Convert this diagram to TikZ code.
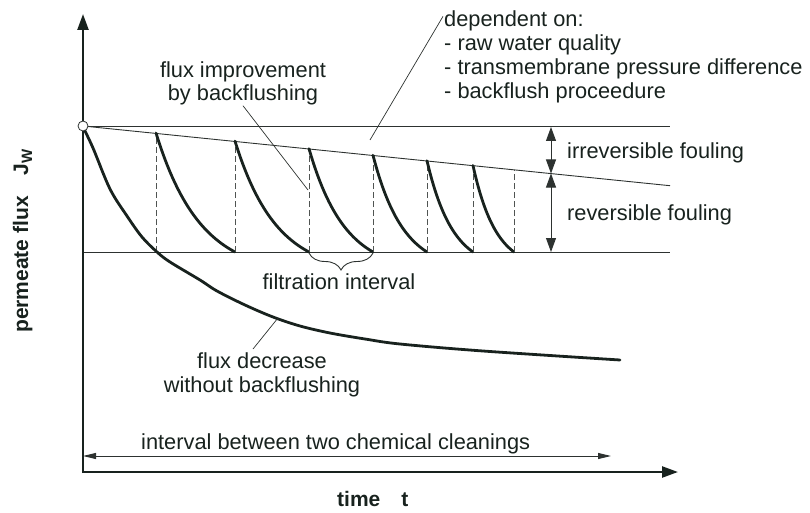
\documentclass[tikz,border=0pt]{standalone}
\usepackage{fontspec}
\setmainfont{Liberation Sans}
\usetikzlibrary{arrows.meta,decorations.pathreplacing}
\definecolor{ink}{RGB}{24,34,30}
\definecolor{thinink}{RGB}{45,50,48}
\definecolor{dashink}{RGB}{80,84,82}
\begin{document}
\begin{tikzpicture}[x=1pt,y=-1pt,
  axis/.style={line width=2.4pt, draw=ink, -{Triangle[length=16pt,width=11pt]}},
  curve/.style={line width=2.8pt, draw=ink, line cap=round, line join=round},
  thinline/.style={line width=0.9pt, draw=thinink},
  leader/.style={line width=0.7pt, draw=thinink},
  guide/.style={line width=0.9pt, draw=dashink, dash pattern=on 6pt off 3pt},
  dimarrow/.style={line width=0.9pt, draw=thinink, {Triangle[length=14pt,width=10pt]}-{Triangle[length=14pt,width=10pt]}},
  spanarrow/.style={line width=0.9pt, draw=thinink, {Triangle[length=13pt,width=6pt]}-{Triangle[length=13pt,width=6pt]}},
  lbl/.style={font=\fontsize{21.8}{24}\selectfont, inner sep=0pt, text=ink},
  axislbl/.style={font=\fontsize{21}{24}\selectfont\bfseries, inner sep=0pt, text=ink}]

\useasboundingbox (0,0) rectangle (810,513);

% reference levels
\coordinate (o) at (83,126);
\coordinate (topEnd) at (670,126);
\coordinate (slopeEnd) at (670,185.7);
\coordinate (baseStart) at (83,252);
\coordinate (baseEnd) at (670,252);
\draw[thinline] (o) -- (topEnd);
\draw[thinline] (o) -- (slopeEnd);
\draw[thinline] (baseStart) -- (baseEnd);

% backflush cycles: dashed restore line and flux decay in each interval
\foreach \a/\b in {156/235,235/309,309/373,373/427,427/473,473/514} {
  \pgfmathsetmacro\ytop{125.5+0.1026*(\a-83)}
  \draw[guide] (\a,252) -- (\a,\ytop);
  \draw[curve] plot[domain=0:1,samples=30,variable=\t]
    ({\a+(\b-\a)*\t},{\ytop+(252-\ytop)*(1-exp(-1.8*\t))/(1-exp(-1.8))});
}
\draw[guide] (514,252) -- (514,169.7);

% flux without backflushing
\draw[curve] plot[smooth,tension=0.55] coordinates {
  (83,127) (93,148) (110,189) (127,216) (142,237) (157,252) (170,262)
  (200,280) (217,291) (245,305) (273,317) (300,326) (330,333)
  (365,339) (400,344) (483,351) (620,360)};

% axes
\draw[axis] (83,473) -- (83,14);
\draw[axis] (82,472) -- (678,472);

% fouling dimensions
\coordinate (dimTop) at (551,127);
\coordinate (dimMid) at (551,173.5);
\coordinate (dimBot) at (551,252);
\draw[dimarrow] (dimTop) -- (dimMid);
\draw[dimarrow] (dimMid) -- (dimBot);

% cleaning interval
\coordinate (cycStart) at (83,456);
\coordinate (cycEnd) at (611,456);
\draw[spanarrow] (cycStart) -- (cycEnd);

% filtration interval brace
\coordinate (brA) at (309,253);
\coordinate (brB) at (373,253);
\draw[thinline, decorate, decoration={brace, amplitude=17pt, mirror}] (brA) -- (brB);

% start point
\node[circle, draw=thinink, fill=white, line width=0.8pt, minimum size=10pt, inner sep=0pt] (start) at (o) {};

% labels
\node[lbl, anchor=base west] (depHead) at (444,27) {dependent on:};
\node[lbl, anchor=base west] (depA) at (444,51) {- raw water quality};
\node[lbl, anchor=base west] (depB) at (444,75) {- transmembrane pressure difference};
\node[lbl, anchor=base west] (depC) at (444,99) {- backflush proceedure};
\node[lbl, anchor=base] (impA) at (243,78) {flux improvement};
\node[lbl, anchor=base] (impB) at (243,101) {by backflushing};
\node[lbl, anchor=base west] (irrev) at (567,158) {irreversible fouling};
\node[lbl, anchor=base west] (rev) at (567,220) {reversible fouling};
\node[lbl, anchor=base] (filt) at (339,289) {filtration interval};
\node[lbl, anchor=base] (decA) at (262,368) {flux decrease};
\node[lbl, anchor=base] (decB) at (262,392) {without backflushing};
\node[lbl, anchor=base west] (cycle) at (141,449) {interval between two chemical cleanings};
\node[axislbl, anchor=base west] (tlbl) at (337,506) {time\quad t};
\node[axislbl, anchor=base west, rotate=90] (jlbl) at (28,333)
  {permeate flux\quad J\raisebox{-4pt}{\fontsize{15}{15}\selectfont W}};

% leaders
\coordinate (depTo) at (370,140);
\coordinate (impTo) at (308,190);
\coordinate (decTo) at (278,318);
\draw[leader] ([shift={(-1,-5)}]depHead.west) -- (depTo);
\draw[leader] (impB.south) -- (impTo);
\draw[leader] ([shift={(-9,-3)}]decA.north) -- (decTo);
\end{tikzpicture}
\end{document}
